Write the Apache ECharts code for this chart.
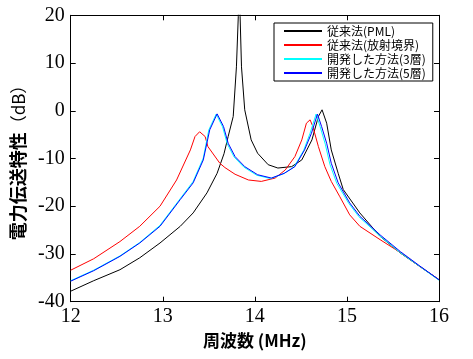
<!DOCTYPE html>
<html>
<head>
<meta charset="utf-8">
<script src="https://cdn.jsdelivr.net/npm/echarts@6/dist/echarts.min.js"></script>
<style>
  html, body { margin: 0; padding: 0; background: #fff; }
  #chart { width: 473px; height: 359px; }
</style>
</head>
<body>
<div id="chart"></div>
<script>
// 周波数 (MHz) と 電力伝送特性 (dB)
var freqPML = [12.00, 12.25, 12.535, 12.75, 12.97, 13.19, 13.33, 13.48, 13.59, 13.665, 13.71, 13.765, 13.80, 13.82, 13.83, 13.84, 13.855, 13.89, 13.96, 14.03, 14.145, 14.25, 14.40, 14.51, 14.62, 14.69, 14.73, 14.78, 14.83, 14.905, 14.96, 15.14, 15.36, 15.58, 15.79, 16.00];
var dbPML   = [-37.8, -35.6, -33.3, -30.8, -27.7, -24.2, -21.4, -17.2, -13.1, -9.0, -5.4, -1.2, 9.2, 19.7, 30, 19.7, 9.2, 0.2, -6.1, -8.9, -11.3, -12.0, -11.7, -10.3, -6.1, -1.2, 0.2, -2.6, -8.2, -13.1, -16.5, -21.4, -26.3, -29.8, -32.6, -35.4];

var freqRad = [12.00, 12.25, 12.535, 12.75, 12.97, 13.15, 13.30, 13.35, 13.40, 13.46, 13.49, 13.62, 13.675, 13.785, 13.93, 14.07, 14.22, 14.33, 14.435, 14.51, 14.56, 14.60, 14.63, 14.69, 14.76, 14.83, 14.92, 15.03, 15.14, 15.36, 15.58, 15.79, 16.00];
var dbRad   = [-33.4, -31.0, -27.4, -24.2, -20.0, -14.5, -8.2, -5.4, -4.4, -5.4, -7.5, -11.0, -11.9, -13.3, -14.5, -14.8, -14.1, -12.4, -9.6, -6.1, -2.6, -1.9, -3.3, -7.5, -11.7, -14.8, -17.9, -21.8, -24.2, -27.0, -29.7, -32.6, -35.4];

var freq3 = [12.00, 12.25, 12.535, 12.75, 12.97, 13.19, 13.33, 13.44, 13.50, 13.58, 13.65, 13.70, 13.775, 13.88, 14.02, 14.17, 14.31, 14.425, 14.53, 14.60, 14.665, 14.71, 14.765, 14.815, 14.89, 15.02, 15.13, 15.35, 15.57, 15.79, 16.00];
var db3   = [-35.6, -33.4, -30.4, -27.6, -24.0, -18.4, -14.8, -9.9, -4.0, -0.7, -3.4, -6.9, -9.7, -11.8, -13.5, -14.2, -13.2, -11.8, -8.3, -4.7, -0.7, -3.4, -7.0, -11.2, -15.2, -19.4, -22.2, -26.1, -29.6, -32.6, -35.5];

var freq5 = [12.00, 12.25, 12.535, 12.75, 12.97, 13.19, 13.33, 13.44, 13.51, 13.59, 13.66, 13.71, 13.785, 13.89, 14.03, 14.18, 14.32, 14.435, 14.54, 14.615, 14.68, 14.725, 14.78, 14.83, 14.905, 15.03, 15.14, 15.36, 15.58, 15.79, 16.00];
var db5   = [-35.7, -33.5, -30.5, -27.7, -24.2, -18.6, -15.1, -10.3, -4.0, -0.65, -3.3, -6.8, -9.6, -11.7, -13.4, -14.1, -13.1, -11.7, -8.2, -4.7, -0.7, -3.3, -6.8, -11.0, -15.1, -19.3, -22.1, -26.0, -29.5, -32.5, -35.4];

var seriesNames = ['従来法(PML)', '従来法(放射境界)', '開発した方法(3層)', '開発した方法(5層)'];
var seriesColors = ['#000000', '#ff0000', '#00ffff', '#0000ff'];
var xTicks = [12, 13, 14, 15, 16];
var yTicks = [-40, -30, -20, -10, 0, 10, 20];

function pairs(xs, ys) {
  var out = [];
  for (var i = 0; i < xs.length; i++) out.push([xs[i], ys[i]]);
  return out;
}

var allData = [pairs(freqPML, dbPML), pairs(freqRad, dbRad), pairs(freq3, db3), pairs(freq5, db5)];

var serif = '"Liberation Serif", "DejaVu Serif", serif';
var cjk = '"Noto Sans CJK JP", sans-serif';

var chart = echarts.init(document.getElementById('chart'), null, { renderer: 'canvas' });

var series = [];
for (var i = 0; i < seriesNames.length; i++) {
  series.push({
    name: seriesNames[i],
    type: 'line',
    data: allData[i],
    symbol: 'none',
    clip: true,
    color: seriesColors[i],
    lineStyle: { width: 1, color: seriesColors[i] },
    animation: false
  });
}

// 枠線の目盛り（上・右は目盛りのみ）
function boxAxis(extra) {
  var a = {
    type: 'value',
    axisLine: { show: true, onZero: false, lineStyle: { color: '#000', width: 1 } },
    axisTick: { show: true, inside: true, length: 5, lineStyle: { color: '#000' } },
    splitLine: { show: false }
  };
  for (var k in extra) a[k] = extra[k];
  return a;
}

chart.setOption({
  animation: false,
  grid: { left: 70.7, right: 34, top: 15.3, bottom: 57.3, containLabel: false },
  legend: {
    data: seriesNames,
    orient: 'vertical',
    left: 274,
    top: 23,
    itemWidth: 38,
    itemHeight: 14,
    itemGap: 2,
    padding: [2, 7, 2, 9],
    borderColor: '#000',
    borderWidth: 1,
    backgroundColor: '#fff',
    itemStyle: { opacity: 0 },
    textStyle: { fontFamily: cjk, fontSize: 12, color: '#000' }
  },
  xAxis: [
    boxAxis({
      min: xTicks[0], max: xTicks[xTicks.length - 1], interval: 1,
      name: '周波数 (MHz)',
      nameLocation: 'middle',
      nameGap: 30,
      nameTextStyle: { fontFamily: cjk, fontSize: 17, color: '#000', fontWeight: 'bold' },
      axisLabel: { fontFamily: serif, fontSize: 20, color: '#000', margin: 5 }
    }),
    boxAxis({
      position: 'top',
      min: xTicks[0], max: xTicks[xTicks.length - 1], interval: 1,
      axisLabel: { show: false }
    })
  ],
  yAxis: [
    boxAxis({
      min: yTicks[0], max: yTicks[yTicks.length - 1], interval: 10,
      name: '{b|電力伝送特性}{n|（dB）}',
      nameLocation: 'middle',
      nameGap: 41,
      nameRotate: 90,
      nameTextStyle: {
        color: '#000',
        rich: {
          b: { fontFamily: cjk, fontSize: 18, fontWeight: 'bold', color: '#000' },
          n: { fontFamily: cjk, fontSize: 17, color: '#000' }
        }
      },
      axisLabel: { fontFamily: serif, fontSize: 20, color: '#000', margin: 6 }
    }),
    boxAxis({
      position: 'right',
      min: yTicks[0], max: yTicks[yTicks.length - 1], interval: 10,
      axisLabel: { show: false }
    })
  ],
  series: series
});
</script>
</body>
</html>
